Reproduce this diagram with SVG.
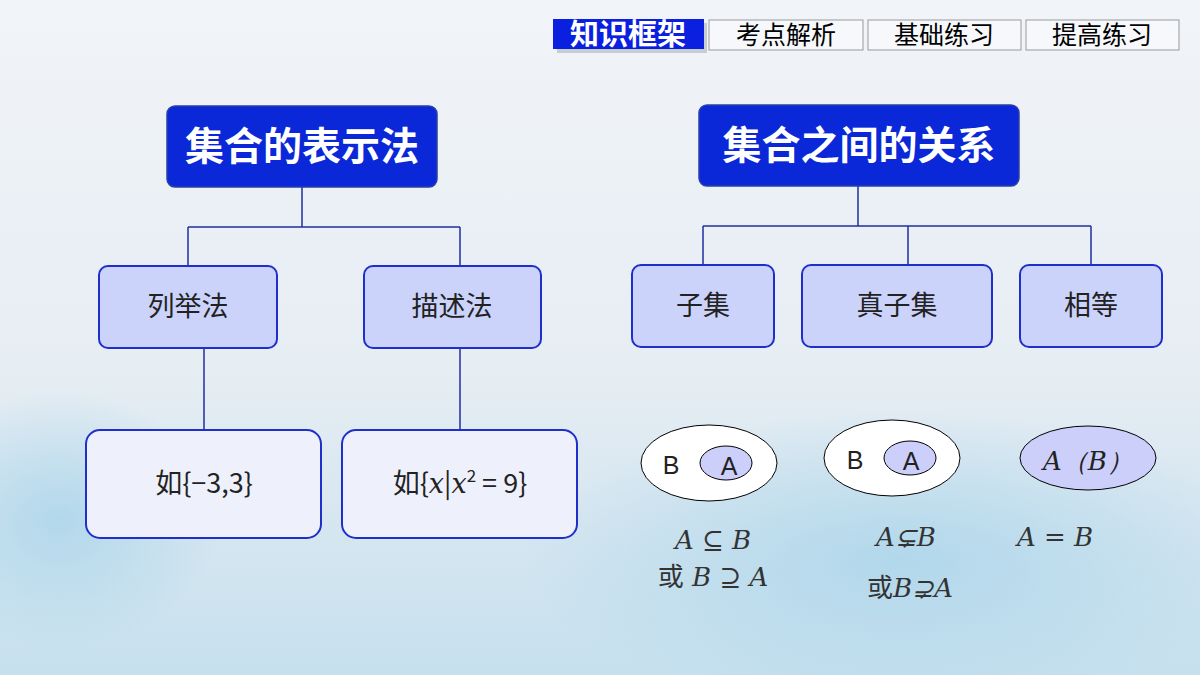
<svg xmlns="http://www.w3.org/2000/svg" width="1200" height="675" viewBox="0 0 1200 675">
<defs>
<linearGradient id="bg" x1="0" y1="0" x2="0" y2="1">
<stop offset="0" stop-color="#f1f4f8"/><stop offset="0.55" stop-color="#e6edf3"/><stop offset="1" stop-color="#c6e0ee"/>
</linearGradient>
<radialGradient id="blob" cx="0.5" cy="0.5" r="0.5"><stop offset="0" stop-color="#a9d4ea" stop-opacity="0.8"/><stop offset="1" stop-color="#a9d4ea" stop-opacity="0"/></radialGradient>
<style>
.cjk{font-family:"Noto Sans CJK SC","Noto Sans",sans-serif}
.math{font-family:"DejaVu Serif","Liberation Serif",serif;font-style:italic}
.top{fill:#0a28d8;stroke:#2a3fa8;stroke-width:1.5}
.mid{fill:#ccd3fb;stroke:#1f2fcc;stroke-width:2}
.low{fill:#eef1fb;stroke:#1f2fcc;stroke-width:2}
.tab{fill:#f6f8fb;stroke:#999;stroke-width:1}
.ln{stroke:#1f2fa0;stroke-width:1.5;fill:none}
.el{stroke:#000;stroke-width:1}
</style>
</defs>
<rect width="1200" height="675" fill="url(#bg)"/>
<ellipse cx="60" cy="520" rx="160" ry="130" fill="url(#blob)"/>
<ellipse cx="900" cy="560" rx="380" ry="150" fill="url(#blob)"/>
<g id="tabs" class="cjk" font-size="25" text-anchor="middle">
<rect x="554" y="20" width="150" height="30" fill="#9aa" opacity="0.5" transform="translate(3,3)"/>
<rect x="553" y="19" width="151" height="30" fill="#0a1fe0"/>
<text x="628" y="45" fill="#fff" font-weight="bold" font-size="29">知识框架</text>
<rect class="tab" x="709" y="20" width="154" height="30"/><text x="786" y="44">考点解析</text>
<rect class="tab" x="868" y="20" width="153" height="30"/><text x="944" y="44">基础练习</text>
<rect class="tab" x="1026" y="20" width="153" height="30"/><text x="1102" y="44">提高练习</text>
</g>
<g id="connectors" class="ln">
<path d="M302 187V227M188 227H460M188 227V266M460 227V266M204 348V430M460 348V430"/>
<path d="M858 186V226M703 226H1091M703 226V265M908 226V265M1091 226V265"/>
</g>
<g class="cjk" text-anchor="middle">
<g id="n1"><rect class="top" x="167" y="106" width="270" height="81" rx="8"/><text x="302" y="160" fill="#fff" font-size="39" font-weight="bold">集合的表示法</text></g>
<g id="n2"><rect class="top" x="699" y="105" width="320" height="81" rx="8"/><text x="859" y="159" fill="#fff" font-size="39" font-weight="bold">集合之间的关系</text></g>
<g id="n3"><rect class="mid" x="99" y="266" width="178" height="82" rx="9"/><text x="188" y="316" font-size="27" fill="#222">列举法</text></g>
<g id="n4"><rect class="mid" x="364" y="266" width="177" height="82" rx="9"/><text x="452" y="316" font-size="27" fill="#222">描述法</text></g>
<g id="n5"><rect class="mid" x="632" y="265" width="142" height="82" rx="9"/><text x="703" y="315" font-size="27" fill="#222">子集</text></g>
<g id="n6"><rect class="mid" x="802" y="265" width="190" height="82" rx="9"/><text x="897" y="315" font-size="27" fill="#222">真子集</text></g>
<g id="n7"><rect class="mid" x="1020" y="265" width="142" height="82" rx="9"/><text x="1091" y="315" font-size="27" fill="#222">相等</text></g>
<g id="n8"><rect class="low" x="86" y="430" width="235" height="108" rx="14"/><text x="204" y="493" font-size="27" fill="#222">如{−3,3}</text></g>
<g id="n9"><rect class="low" x="342" y="430" width="235" height="108" rx="14"/><text x="460" y="493" font-size="27" fill="#222">如{<tspan class="math">x</tspan>|<tspan class="math">x</tspan><tspan font-size="17" dy="-11">2</tspan><tspan dy="11"> = 9}</tspan></text></g>
</g>
<g id="venn" font-family="'Liberation Sans',sans-serif" font-size="25" fill="#222" text-anchor="middle">
<ellipse class="el" cx="709" cy="463" rx="68" ry="38" fill="#fff"/>
<ellipse class="el" cx="726" cy="463" rx="26" ry="17" fill="#cccffa"/>
<text x="671" y="474">B</text><text x="729" y="475">A</text>
<ellipse class="el" cx="892" cy="458" rx="68" ry="38" fill="#fff"/>
<ellipse class="el" cx="910" cy="458" rx="26" ry="17" fill="#cccffa"/>
<text x="855" y="469">B</text><text x="911" y="470">A</text>
<ellipse class="el" cx="1088" cy="458" rx="68" ry="32" fill="#cccffa"/>
<text x="1088" y="470" class="math" font-size="26">A（B）</text>
</g>
<g id="labels" font-size="26" fill="#333" text-anchor="middle">
<text x="713" y="549" class="math">A ⊆ B</text>
<text x="713" y="586"><tspan class="cjk">或</tspan><tspan class="math"> B ⊇ A</tspan></text>
<text x="906" y="546" class="math">A⊊B</text>
<text x="910" y="597"><tspan class="cjk">或</tspan><tspan class="math">B⊋A</tspan></text>
<text x="1055" y="546" class="math">A = B</text>
</g>
</svg>
